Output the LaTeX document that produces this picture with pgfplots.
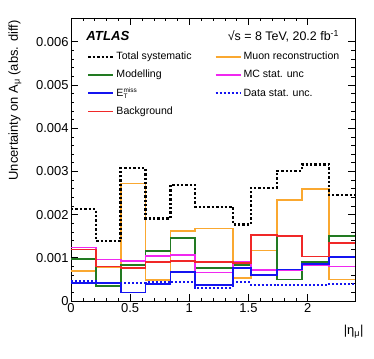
\documentclass[border=0pt]{standalone}
\usepackage{pgfplots}
\pgfplotsset{compat=1.18}
\usepackage{fontspec}
\setmainfont{Liberation Sans}

\definecolor{atlgreen}{RGB}{34,122,34}
\definecolor{atlorange}{RGB}{250,168,48}
\definecolor{atlred}{RGB}{240,40,40}
\definecolor{atlmag}{RGB}{240,40,240}
\definecolor{atlblue}{RGB}{20,20,240}

% bin lower edges, last row repeats the last bin at 2.4
\pgfplotstableread{
x     tot   muon  model bkg   mc    met   data
0.00  2.13  0.70  0.97  1.19  1.24  0.41  0.47
0.21  1.39  0.79  0.34  0.80  0.96  0.42  0.42
0.42  3.08  2.72  0.84  0.77  0.92  0.20  0.41
0.63  1.91  0.48  1.16  0.90  1.04  0.39  0.43
0.84  2.69  1.62  1.46  0.93  1.06  0.67  0.44
1.05  2.18  1.68  0.77  0.90  0.66  0.37  0.31
1.37  1.77  0.54  0.84  0.88  0.90  0.77  0.43
1.52  2.62  1.17  1.52  1.53  0.72  0.60  0.37
1.74  3.01  2.34  0.50  1.50  0.72  0.73  0.38
1.95  3.16  2.59  0.90  1.03  0.82  0.85  0.38
2.18  2.45  0.50  1.50  1.35  0.80  1.02  0.40
2.40  2.45  0.50  1.50  1.35  0.80  1.02  0.40
}\unc

\tikzset{
  totstyle/.style={black, line width=2.4bp, dash pattern=on 2.4bp off 2bp},
  datastyle/.style={atlblue, line width=2bp, dash pattern=on 2bp off 2bp},
  solidh/.style={line width=1.7bp},
}

\begin{document}
\begin{tikzpicture}
\begin{axis}[
  scale only axis, width=284bp, height=283bp,
  xmin=0, xmax=2.4, ymin=0, ymax=0.00655,
  y filter/.expression={y/1000},
  scaled y ticks=false,
  xtick={0,0.5,1,1.5,2}, xticklabels={0,0.5,1,1.5,2},
  ytick={0,0.001,0.002,0.003,0.004,0.005,0.006},
  yticklabels={0,0.001,0.002,0.003,0.004,0.005,0.006},
  minor x tick num=4, minor y tick num=4,
  tick pos=both, tick align=inside,
  major tick length=7bp, minor tick length=3.5bp,
  tick style={black, line width=0.6bp},
  axis line style={line width=0.8bp},
  tick label style={font=\fontsize{13}{15}\selectfont},
  yticklabel style={xshift=1bp},
  xticklabel style={yshift=1bp},
  const plot,
  legend columns=2,
  legend cell align=left,
  legend image code/.code={\draw[#1] (0bp,0bp) -- (25bp,0bp);},
  legend style={at={(rel axis cs:0.056,0.888)}, anchor=north west,
    draw=none, fill=none, inner sep=0pt,
    font=\fontsize{10.6}{12}\selectfont,
    nodes={text height=8bp, text depth=2.5bp},
    row sep=3.6bp, column sep=0bp,
    /tikz/column 2/.style={column sep=21bp}},
]
\addplot[atlorange, solidh, forget plot] table[x=x, y=muon] {\unc};
\addplot[atlgreen, solidh, forget plot] table[x=x, y=model] {\unc};
\addplot[atlmag, solidh, forget plot] table[x=x, y=mc] {\unc};
\addplot[atlblue, solidh, forget plot] table[x=x, y=met] {\unc};
\addplot[atlred, solidh, forget plot] table[x=x, y=bkg] {\unc};
\addplot[datastyle, forget plot] table[x=x, y=data] {\unc};
\addplot[totstyle, forget plot] table[x=x, y=tot] {\unc};

\addlegendimage{totstyle}\addlegendentry{Total systematic}
\addlegendimage{atlorange, solidh}\addlegendentry{Muon reconstruction}
\addlegendimage{atlgreen, solidh}\addlegendentry{Modelling}
\addlegendimage{atlmag, solidh}\addlegendentry{MC stat. unc}
\addlegendimage{atlblue, solidh}\addlegendentry{E$^{\hbox{\fontsize{6.5}{7}\selectfont miss}}_{\hbox{\fontsize{6.5}{7}\selectfont T}}$}
\addlegendimage{datastyle}\addlegendentry{Data stat. unc.}
\addlegendimage{atlred, solidh}\addlegendentry{Background}

\node[anchor=west, font=\fontsize{13.2}{15}\selectfont\bfseries\itshape]
  at (rel axis cs:0.042,0.936) {ATLAS};
\node[anchor=east, font=\fontsize{12.5}{15}\selectfont]
  at (rel axis cs:0.956,0.936) {√s = 8 TeV, 20.2 fb\textsuperscript{-1}};
\end{axis}
\path (current axis.north west) ++(-56bp,1bp)
  node[rotate=90, anchor=east, font=\fontsize{13}{15}\selectfont]
  {Uncertainty on A\textsubscript{μ} (abs. diff)};
\path (current axis.south east) ++(12bp,-21bp)
  node[anchor=north east, font=\fontsize{13}{15}\selectfont] {|η\textsubscript{μ}|};
\pgfresetboundingbox
\path (current axis.south west) ++(-71bp,-58bp) rectangle ++(374bp,359bp);
\end{tikzpicture}
\end{document}
